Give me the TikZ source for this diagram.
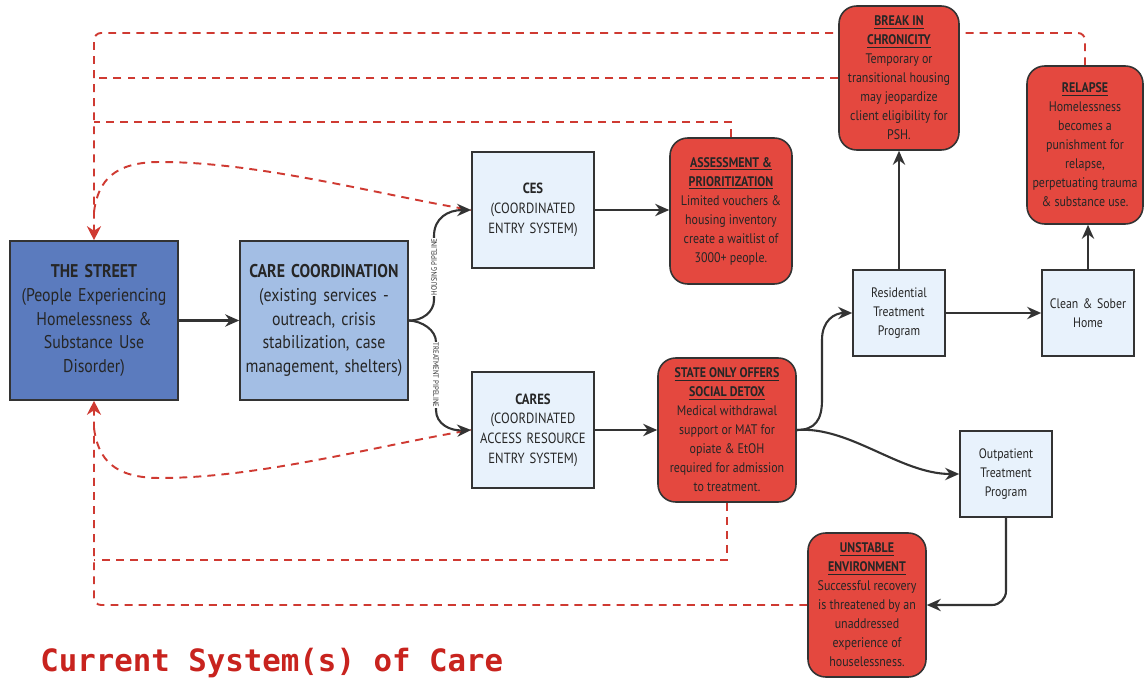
\documentclass[tikz,border=0pt]{standalone}
\usepackage{fontspec}
\setmainfont{PT Sans}[FakeStretch=0.86]
\newfontfamily\titlefont{DejaVu Sans Mono}
\usetikzlibrary{arrows.meta,calc,backgrounds}
\definecolor{streetblue}{HTML}{5B7BBE}
\definecolor{ccblue}{HTML}{A3BEE4}
\definecolor{paleblue}{HTML}{E8F2FC}
\definecolor{boxred}{HTML}{E4483F}
\definecolor{dashred}{HTML}{CF3A32}
\definecolor{edgegray}{HTML}{333333}
\definecolor{titlered}{HTML}{C8231E}
\begin{document}
\begin{tikzpicture}[x=0.02cm,y=-0.02cm,
  base/.style={draw=edgegray, line width=0.9pt, align=center, inner sep=2pt, text=black!85},
  bigbox/.style={base, minimum width=3.36cm, minimum height=3.18cm, text width=3.2cm, font=\fontsize{10.5}{13.6}\selectfont},
  midbox/.style={base, fill=paleblue, minimum width=2.44cm, minimum height=2.32cm, text width=2.3cm, font=\fontsize{8.4}{11.2}\selectfont},
  smallbox/.style={base, fill=paleblue, minimum width=1.84cm, minimum height=1.72cm, text width=1.7cm, font=\fontsize{7.8}{11}\selectfont},
  issue/.style={base, fill=boxred, rounded corners=10pt, font=\fontsize{7.9}{10.8}\selectfont},
  flow/.style={draw=edgegray, line width=1.2pt, -{Stealth[length=8pt,width=7pt]}},
  back/.style={draw=dashred, line width=1.1pt, dash pattern=on 4.5pt off 3.5pt},
  redtip/.style={-{Stealth[length=8pt,width=8pt,fill=dashred]}},
  pipe/.style={font=\fontsize{4.5}{5}\selectfont, fill=white, inner sep=0.5pt, text=black!80}
]
\useasboundingbox (0,0) rectangle (1144,679);

% nodes
\node[bigbox, fill=streetblue] (street) at (94,320.5)
  {\textbf{THE STREET}\\(People Experiencing\\Homelessness \&\\Substance Use\\Disorder)};
\node[bigbox, fill=ccblue] (cc) at (324,320.5)
  {\textbf{CARE COORDINATION}\\(existing services -\\outreach, crisis\\stabilization, case\\management, shelters)};
\node[midbox] (ces) at (533,210) {\textbf{CES}\\(COORDINATED\\ENTRY SYSTEM)};
\node[midbox] (cares) at (533,430) {\textbf{CARES}\\(COORDINATED\\ACCESS RESOURCE\\ENTRY SYSTEM)};
\node[issue, minimum width=2.44cm, minimum height=2.92cm] (assess) at (731,211)
  {\underline{\textbf{ASSESSMENT \&}}\\\underline{\textbf{PRIORITIZATION}}\\Limited vouchers \&\\housing inventory\\create a waitlist of\\3000+ people.};
\node[issue, minimum width=2.76cm, minimum height=2.88cm] (state) at (727,430)
  {\underline{\textbf{STATE ONLY OFFERS}}\\\underline{\textbf{SOCIAL DETOX}}\\Medical withdrawal\\support or MAT for\\opiate \& EtOH\\required for admission\\to treatment.};
\node[issue, minimum width=2.4cm, minimum height=2.88cm] (brk) at (899,78)
  {\underline{\textbf{BREAK IN}}\\\underline{\textbf{CHRONICITY}}\\Temporary or\\transitional housing\\may jeopardize\\client eligibility for\\PSH.};
\node[issue, minimum width=2.32cm, minimum height=3.16cm] (relapse) at (1085,145)
  {\underline{\textbf{RELAPSE}}\\Homelessness\\becomes a\\punishment for\\relapse,\\perpetuating trauma\\\& substance use.};
\node[smallbox] (resid) at (899,313) {Residential\\Treatment\\Program};
\node[smallbox] (clean) at (1088,313) {Clean \& Sober\\Home};
\node[smallbox] (outp) at (1006,474) {Outpatient\\Treatment\\Program};
\node[issue, minimum width=2.36cm, minimum height=2.88cm] (unstable) at (867,605)
  {\underline{\textbf{UNSTABLE}}\\\underline{\textbf{ENVIRONMENT}}\\Successful recovery\\is threatened by an\\unaddressed\\experience of\\houselessness.};

\node[anchor=base west, inner sep=0, text=titlered,
      font=\titlefont\bfseries\fontsize{17.5}{20}\selectfont] (title) at (40,671) {Current System(s) of Care};

% solid flow
\draw[flow] (street.east) -- (cc.west);
\draw[flow] (ces.east) -- (ces.east -| assess.west);
\draw[flow] (cares.east) -- (cares.east -| state.west);
\draw[flow] (cc.east) .. controls (422,321) and (434,312) .. (434,300) -- (434,236)
  .. controls (434,218) and (448,210) .. (ces.west);
\draw[flow] (cc.east) .. controls (422,321) and (436,330) .. (436,342) -- (436,410)
  .. controls (436,424) and (450,431) .. (cares.west);
\node[pipe, rotate=90] (hp) at (434,267) {HOUSING PIPELINE};
\node[pipe, rotate=-90] (tp) at (436,375) {TREATMENT PIPELINE};
\draw[flow] (state.east) .. controls (815,430) and (822,420) .. (822,400) -- (822,340)
  .. controls (822,320) and (835,313) .. (resid.west);
\draw[flow] (state.east) .. controls (850,426) and (900,474) .. (outp.west);
\draw[flow] (resid.north) -- (resid.north |- brk.south);
\draw[flow] (resid.east) -- (clean.west);
\draw[flow] (clean.north) -- (clean.north |- relapse.south);
\draw[flow, rounded corners=8pt] (outp.south) |- (unstable.east);

% dashed feedback
\begin{scope}[on background layer]
\coordinate (tl) at (94,33);
\coordinate (bl) at (94,605);
\coordinate (uj) at (94,212);
\coordinate (lj) at (94,428);
\draw[back, redtip, rounded corners=4pt] (relapse.north) |- (tl) -- (street.north);
\draw[back] (brk.west) -- (brk.west -| street.north);
\draw[back] (assess.north) |- (94,122);
\draw[back, redtip, rounded corners=4pt] (unstable.west) -| (street.south);
\draw[back] (state.south) |- (94,560);
\draw[back] (uj) .. controls (98,180) and (115,162) .. (160,162)
  .. controls (260,162) and (380,195) .. (ces.west);
\draw[back] (lj) .. controls (98,460) and (115,478) .. (160,478)
  .. controls (260,478) and (380,445) .. (cares.west);
\end{scope}
\end{tikzpicture}
\end{document}
